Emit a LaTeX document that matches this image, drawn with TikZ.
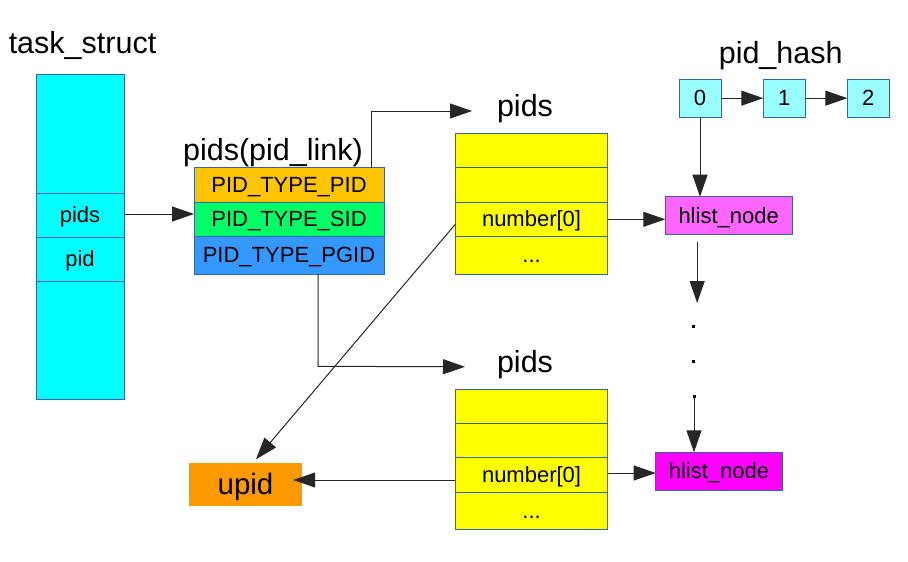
\documentclass[tikz,border=0pt]{standalone}
\usepackage{fontspec}
\setmainfont{Liberation Sans}
\usetikzlibrary{arrows.meta,calc}
\definecolor{bd}{HTML}{3465A4}
\definecolor{cyanbox}{HTML}{00FFFF}
\definecolor{hashbox}{HTML}{99FFFF}
\definecolor{pidor}{HTML}{FFC400}
\definecolor{sidgr}{HTML}{00FF66}
\definecolor{pgidbl}{HTML}{3399FF}
\definecolor{yel}{HTML}{FFFF00}
\definecolor{hlA}{HTML}{FF66FF}
\definecolor{hlB}{HTML}{FF00FF}
\definecolor{upidor}{HTML}{FF9900}
\begin{document}
\begin{tikzpicture}[x=1pt,y=-1pt,
  cell/.style={draw=bd, line width=0.8pt, inner sep=0pt, outer sep=0pt, anchor=north west,
    font=\fontsize{22}{26}\selectfont, text height=20pt, text depth=4.7pt},
  ttl/.style={font=\fontsize{30.5}{36}\selectfont, anchor=base, inner sep=0pt},
  arr/.style={draw=black!85, line width=1pt, -{Triangle[length=22pt,width=15pt]}},
  dotmark/.style={fill=black, inner sep=0pt, minimum size=3pt}]
\useasboundingbox (0,0) rectangle (908,562);

% task_struct
\node[ttl] (tst) at (82.5,53) {task\_struct};
\node[cell, fill=cyanbox, minimum width=88pt, minimum height=119pt] (ts1) at (36,74) {};
\node[cell, fill=cyanbox, minimum width=88pt, minimum height=44pt] (ts2) at (36,193) {pids};
\node[cell, fill=cyanbox, minimum width=88pt, minimum height=44pt] (ts3) at (36,237) {pid};
\node[cell, fill=cyanbox, minimum width=88pt, minimum height=118pt] (ts4) at (36,281) {};

% pids(pid_link)
\node[ttl] (plt) at (273,160) {pids(pid\_link)};
\node[cell, fill=pidor, minimum width=190pt, minimum height=34.5pt] (pl1) at (194,167.7) {PID\_TYPE\_PID};
\node[cell, fill=sidgr, minimum width=190pt, minimum height=34pt] (pl2) at (194,202.2) {PID\_TYPE\_SID};
\node[cell, fill=pgidbl, minimum width=190pt, minimum height=37.8pt] (pl3) at (194,236.2) {PID\_TYPE\_PGID};

% pids 1
\node[ttl] (p1t) at (525,116.7) {pids};
\node[cell, fill=yel, minimum width=152.5pt, minimum height=34.4pt] (p1a) at (455.3,133.3) {};
\node[cell, fill=yel, minimum width=152.5pt, minimum height=34.6pt] (p1b) at (455.3,167.7) {};
\node[cell, fill=yel, minimum width=152.5pt, minimum height=34pt] (p1c) at (455.3,202.3) {number[0]};
\node[cell, fill=yel, minimum width=152.5pt, minimum height=37.7pt] (p1d) at (455.3,236.3) {...};

% pids 2
\node[ttl] (p2t) at (525,372.3) {pids};
\node[cell, fill=yel, minimum width=152.5pt, minimum height=34.3pt] (p2a) at (455.3,389) {};
\node[cell, fill=yel, minimum width=152.5pt, minimum height=34.4pt] (p2b) at (455.3,423.3) {};
\node[cell, fill=yel, minimum width=152.5pt, minimum height=34.6pt] (p2c) at (455.3,457.7) {number[0]};
\node[cell, fill=yel, minimum width=152.5pt, minimum height=37pt] (p2d) at (455.3,492.3) {...};

% upid
\node[cell, draw=none, fill=upidor, minimum width=112.4pt, minimum height=42.4pt,
  font=\fontsize{29.5}{34}\selectfont, text height=26.2pt, text depth=6.2pt] (upid) at (189.3,463.3) {upid};

% pid_hash
\node[ttl] (pht) at (780.7,63.3) {pid\_hash};
\node[cell, fill=hashbox, minimum width=42pt, minimum height=38.3pt] (b0) at (679,79) {0};
\node[cell, fill=hashbox, minimum width=42pt, minimum height=38.3pt] (b1) at (763.3,79) {1};
\node[cell, fill=hashbox, minimum width=42pt, minimum height=38.3pt] (b2) at (847.3,79) {2};

% hlist nodes
\node[cell, fill=hlA, minimum width=126.7pt, minimum height=37.6pt] (h1) at (665.3,196.7) {hlist\_node};
\node[cell, fill=hlB, minimum width=126.6pt, minimum height=37.7pt] (h2) at (655.7,452.3) {hlist\_node};

% dots
\node[dotmark] (d1) at (693.3,326) {};
\node[dotmark] (d2) at (693.3,361) {};
\node[dotmark] (d3) at (694,396) {};

% connectors
\draw[arr] ([yshift=1pt]ts2.east) -- ([yshift=1pt]ts2.east -| pl2.west);
\coordinate (c1) at (371,111);
\coordinate (c1e) at (472,111);
\draw[arr] (pl1.north -| c1) -- (c1) -- (c1e);
\coordinate (c2) at (318,366.3);
\coordinate (c2e) at (465,366.8);
\draw[arr] (pl3.south -| c2) -- (c2) -- (c2e);
\draw[arr] ([yshift=-5pt]p1c.west) -- ($(upid.north)+(10.5,-4)$);
\draw[arr] ([yshift=-5pt]p2c.west) -- ($(upid.east)+(-8.5,-4.5)$);
\draw[arr] (p1c.east) -- (p1c.east -| h1.west);
\draw[arr] ([yshift=2pt]p2c.east) -- ([yshift=2pt]p2c.east -| h2.west);
\draw[arr] (b0) -- (b1);
\draw[arr] (b1) -- (b2);
\draw[arr] (b0.south) -- (b0.south |- h1.north);
\draw[arr] ($(h1.south)+(-31.5,8)$) -- ($(h1.south)+(-31.5,68.7)$);
\draw[arr] (d3.center) -- (d3.center |- h2.north);
\end{tikzpicture}
\end{document}
